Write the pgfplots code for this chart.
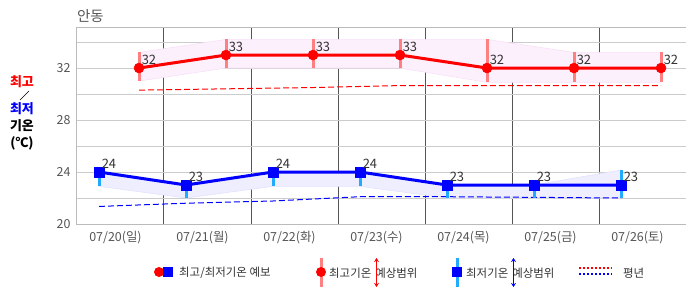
\documentclass[border=0pt]{standalone}
\usepackage{fontspec}
\setmainfont{Noto Sans CJK KR}
\usepackage{pgfplots}
\pgfplotsset{compat=1.18}
\usetikzlibrary{arrows.meta}
\definecolor{labelgray}{HTML}{555555}
\definecolor{labeldark}{HTML}{333333}
\definecolor{lightgrid}{HTML}{CCCCCC}
\definecolor{darkgrid}{HTML}{555555}
\definecolor{axisgray}{HTML}{BBBBBB}
\definecolor{rangered}{HTML}{FF8080}
\definecolor{rangeblue}{HTML}{22AAFF}
\definecolor{bandpink}{HTML}{FDF0FD}
\definecolor{bandpinkedge}{HTML}{F8E0F8}
\definecolor{bandblue}{HTML}{EEEEFF}
\definecolor{bandblueedge}{HTML}{E2E2FF}
\begin{document}
\begin{tikzpicture}
\begin{axis}[
  at={(0,0)}, anchor=south west,
  scale only axis, width=609bp, height=196bp,
  xmin=-0.5, xmax=6.5, ymin=20, ymax=35.08,
  xtick={0,1,2,3,4,5,6},
  xticklabels={07/20(일),07/21(월),07/22(화),07/23(수),07/24(목),07/25(금),07/26(토)},
  minor xtick={0.5,1.5,2.5,3.5,4.5,5.5},
  ytick={20,24,28,32}, minor ytick={22,26,30,34},
  xminorgrids=true, ymajorgrids=true, yminorgrids=true,
  minor x grid style={draw=darkgrid, line width=1bp},
  major y grid style={draw=lightgrid, line width=1bp},
  minor y grid style={draw=lightgrid, line width=1bp},
  major tick length=0pt, minor tick length=0pt,
  axis line style={draw=axisgray, line width=1bp},
  /pgf/number format/assume math mode=true,
  x tick label style={font=\fontsize{12.5}{12.5}\selectfont, text=labelgray, xshift=-5bp, yshift=-4bp},
  y tick label style={font=\fontsize{12.5}{12.5}\selectfont, text=labelgray, xshift=-3bp},
  clip=false,
]
% high forecast range band
\addplot[fill=bandpink, draw=bandpinkedge, line width=0.6bp, forget plot] coordinates {
 (0.213,33.2) (1.213,34.2) (2.213,34.2) (3.213,34.2) (4.213,34.2) (5.213,33.2) (6.213,33.2)
 (6.213,30.9) (5.213,30.9) (4.213,30.9) (3.213,32.0) (2.213,32.0) (1.213,32.0) (0.213,31.0)} -- cycle;
% low forecast range band
\addplot[fill=bandblue, draw=bandblueedge, line width=0.6bp, forget plot] coordinates {
 (-0.247,24) (0.753,23) (1.753,24) (2.753,24) (3.753,23) (4.753,23) (5.753,24.15)
 (5.753,22.0) (4.753,22.0) (3.753,22.0) (2.753,22.9) (1.753,22.9) (0.753,22.0) (-0.247,22.9)} -- cycle;
% normals
\addplot[red, line width=1bp, dash pattern=on 6bp off 3bp, forget plot] coordinates {
 (0.213,30.3) (1.213,30.4) (2.213,30.5) (3.213,30.65) (4.213,30.65) (5.213,30.65) (6.213,30.65)};
\addplot[blue, line width=1bp, dash pattern=on 6bp off 3bp, forget plot] coordinates {
 (-0.247,21.35) (0.753,21.6) (1.753,21.77) (2.753,22.1) (3.753,22.1) (4.753,22.05) (5.753,22.0)};
% range bars
\addplot[rangered, only marks, mark=none, forget plot,
  error bars/.cd, y dir=both, y explicit, error mark=none,
  error bar style={line width=3bp, solid, rangered}] coordinates {
 (0.213,32) += (0,1.2) -= (0,1.0)
 (1.213,33) += (0,1.2) -= (0,1.0)
 (2.213,33) += (0,1.2) -= (0,1.0)
 (3.213,33) += (0,1.2) -= (0,1.0)
 (4.213,32) += (0,2.2) -= (0,1.1)
 (5.213,32) += (0,1.2) -= (0,1.1)
 (6.213,32) += (0,1.2) -= (0,1.1)};
\addplot[rangeblue, only marks, mark=none, forget plot,
  error bars/.cd, y dir=both, y explicit, error mark=none,
  error bar style={line width=3bp, solid, rangeblue}] coordinates {
 (-0.247,24) += (0,0) -= (0,1.1)
 (0.753,23) += (0,0) -= (0,1.0)
 (1.753,24) += (0,0) -= (0,1.1)
 (2.753,24) += (0,0) -= (0,1.1)
 (3.753,23) += (0,0) -= (0,1.0)
 (4.753,23) += (0,0) -= (0,1.0)
 (5.753,23) += (0,1.15) -= (0,1.0)};
% main series
\addplot[red, line width=3bp, mark=*, mark size=5bp, mark options={solid, fill=red, line width=0.5bp},
  nodes near coords, nodes near coords style={anchor=south west, text=labeldark, inner sep=1bp, xshift=1.5bp, yshift=2bp, font=\fontsize{13}{13}\selectfont}]
 coordinates {(0.213,32) (1.213,33) (2.213,33) (3.213,33) (4.213,32) (5.213,32) (6.213,32)};
\addplot[blue, line width=3bp, mark=square*, mark size=5bp, mark options={solid, fill=blue, line width=0.5bp},
  nodes near coords, nodes near coords style={anchor=south west, text=labeldark, inner sep=1bp, xshift=1.5bp, yshift=2bp, font=\fontsize{13}{13}\selectfont}]
 coordinates {(-0.247,24) (0.753,23) (1.753,24) (2.753,24) (3.753,23) (4.753,23) (5.753,23)};
\end{axis}
% title
\node[anchor=west, inner sep=0pt, text=labelgray, font=\fontsize{14.5}{14.5}\selectfont] at (0bp,208bp) {안동};
% y label
\begin{scope}[font=\fontsize{13}{13}\selectfont\bfseries]
\node[text=red] at (-55bp,142bp) {최고};
\draw[black, line width=0.6bp] (-57bp,124bp) -- (-48bp,133bp);
\node[text=blue] at (-55bp,115bp) {최저};
\node[text=black] at (-55bp,98bp) {기온};
\node[text=black] at (-55bp,81bp) {(℃)};
\end{scope}
% legend
\begin{scope}[font=\fontsize{11.5}{11.5}\selectfont]
\fill[red] (82bp,-48bp) circle (5bp);
\fill[blue] (86bp,-53bp) rectangle (96bp,-43bp);
\node[anchor=west, inner sep=0pt, text=labeldark] at (102bp,-49bp) {최고/최저기온 예보};
\draw[rangered, line width=3bp] (244bp,-34bp) -- (244bp,-63bp);
\fill[red] (244bp,-48bp) circle (5bp);
\node[anchor=west, inner sep=0pt, text=labeldark] at (252bp,-49bp) {최고기온\hspace{4bp}예상범위};
\draw[red, line width=1.5bp, {Stealth[length=4bp,width=5bp]}-{Stealth[length=4bp,width=5bp]}] (299.5bp,-34bp) -- (299.5bp,-63bp);
\draw[rangeblue, line width=3bp] (380bp,-34bp) -- (380bp,-63bp);
\fill[blue] (375bp,-53bp) rectangle (385bp,-43bp);
\node[anchor=west, inner sep=0pt, text=labeldark] at (389bp,-49bp) {최저기온\hspace{4bp}예상범위};
\draw[blue, line width=1.5bp, {Stealth[length=4bp,width=5bp]}-{Stealth[length=4bp,width=5bp]}] (436.5bp,-34bp) -- (436.5bp,-63bp);
\draw[red, line width=1.5bp, dash pattern=on 2bp off 2bp] (502bp,-44bp) -- (535bp,-44bp);
\draw[blue, line width=1.5bp, dash pattern=on 2bp off 2bp] (502bp,-50bp) -- (535bp,-50bp);
\node[anchor=west, inner sep=0pt, text=labeldark] at (546bp,-49bp) {평년};
\end{scope}
\pgfresetboundingbox
\path[use as bounding box] (-77bp,-71bp) rectangle (609bp,224bp);
\end{tikzpicture}
\end{document}
